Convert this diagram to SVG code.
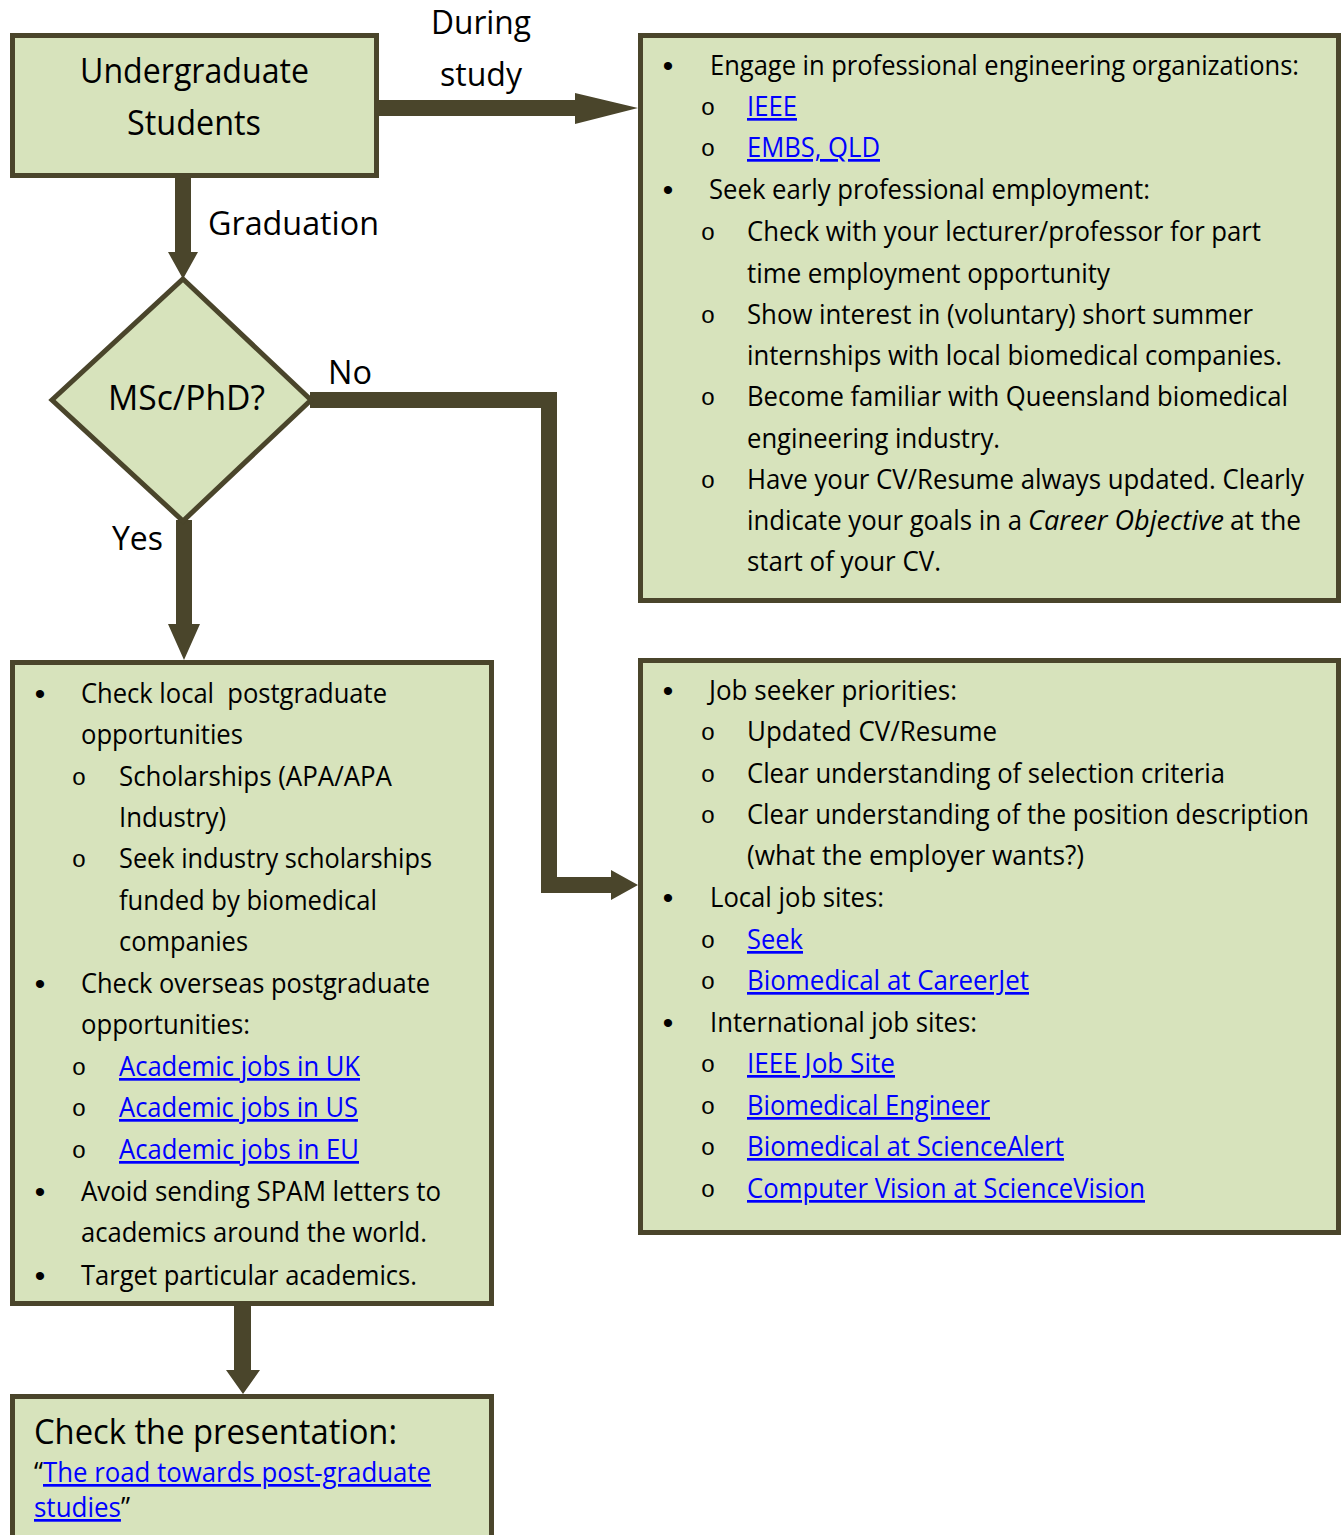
<svg xmlns="http://www.w3.org/2000/svg" width="1343" height="1535" viewBox="0 0 1343 1535">
<style>
.box{fill:#d7e3bc;stroke:#4a452b;stroke-width:5}
.con{fill:#4a452b;stroke:none}
text{font-family:"Open Sans","Noto Sans",sans-serif;fill:#000}
.t{font-size:27px;white-space:pre}
.big{font-size:34px}
.lbl{font-size:33px}
.lk{fill:#0000ff;text-decoration:underline}
.bul{font-family:"Liberation Sans",sans-serif;font-size:30px;text-anchor:middle}
.sub{font-family:"Liberation Mono",monospace;font-size:24px;text-anchor:middle}
</style>
<rect width="1343" height="1535" fill="#ffffff"/>
<g id="connectors">
<polygon class="con" points="377,100 575,100 575,93 638,108 575,124 575,116 377,116"/>
<polygon class="con" points="175,176 191,176 191,252 198,252 183,279 168,252 175,252"/>
<polygon class="con" points="176,520 192,520 192,624 200,624 184,660 168,624 176,624"/>
<polygon class="con" points="310,392 557,392 557,877 611,877 611,870 638,885 611,900 611,893 541,893 541,408 310,408"/>
<polygon class="con" points="234,1304 251,1304 251,1370 260,1370 243,1394 226,1370 234,1370"/>
<text class="lbl" x="431" y="34" textLength="100" lengthAdjust="spacingAndGlyphs">During</text>
<text class="lbl" x="440" y="86" textLength="82" lengthAdjust="spacingAndGlyphs">study</text>
<text class="lbl" x="208" y="235" textLength="171" lengthAdjust="spacingAndGlyphs">Graduation</text>
<text class="lbl" x="328" y="384" textLength="44" lengthAdjust="spacingAndGlyphs">No</text>
<text class="lbl" x="112" y="550" textLength="51" lengthAdjust="spacingAndGlyphs">Yes</text>
</g>
<g id="undergrad">
<rect class="box" x="12.5" y="35.5" width="364" height="140"/>
<text class="big" x="80" y="83" textLength="229" lengthAdjust="spacingAndGlyphs">Undergraduate</text>
<text class="big" x="127" y="135" textLength="134" lengthAdjust="spacingAndGlyphs">Students</text>
</g>
<g id="decision">
<polygon class="box" stroke-width="4" points="183,279 311,400 183,521 52,400"/>
<text class="big" x="108" y="410" textLength="157" lengthAdjust="spacingAndGlyphs">MSc/PhD?</text>
</g>
<g id="during-study-box">
<rect class="box" x="640.5" y="35.5" width="698" height="565"/>
<text class="bul" x="668" y="76">•</text>
<text class="t" x="710" y="75" textLength="589" lengthAdjust="spacingAndGlyphs">Engage in professional engineering organizations:</text>
<text class="sub" x="708" y="115">o</text>
<text class="t lk" x="747" y="116" textLength="50" lengthAdjust="spacingAndGlyphs">IEEE</text>
<text class="sub" x="708" y="156">o</text>
<text class="t lk" x="747" y="157" textLength="133" lengthAdjust="spacingAndGlyphs">EMBS, QLD</text>
<text class="bul" x="668" y="200">•</text>
<text class="t" x="709" y="199" textLength="441" lengthAdjust="spacingAndGlyphs">Seek early professional employment:</text>
<text class="sub" x="708" y="240">o</text>
<text class="t" x="747" y="241" textLength="514" lengthAdjust="spacingAndGlyphs">Check with your lecturer/professor for part</text>
<text class="t" x="747" y="283" textLength="363" lengthAdjust="spacingAndGlyphs">time employment opportunity</text>
<text class="sub" x="708" y="323">o</text>
<text class="t" x="747" y="324" textLength="506" lengthAdjust="spacingAndGlyphs">Show interest in (voluntary) short summer</text>
<text class="t" x="747" y="365" textLength="535" lengthAdjust="spacingAndGlyphs">internships with local biomedical companies.</text>
<text class="sub" x="708" y="405">o</text>
<text class="t" x="747" y="406" textLength="541" lengthAdjust="spacingAndGlyphs">Become familiar with Queensland biomedical</text>
<text class="t" x="747" y="448" textLength="253" lengthAdjust="spacingAndGlyphs">engineering industry.</text>
<text class="sub" x="708" y="488">o</text>
<text class="t" x="747" y="489" textLength="557" lengthAdjust="spacingAndGlyphs">Have your CV/Resume always updated. Clearly</text>
<text class="t" x="747" y="530" textLength="275" lengthAdjust="spacingAndGlyphs">indicate your goals in a</text>
<text class="t" x="1028" y="530" textLength="196" lengthAdjust="spacingAndGlyphs" font-style="italic">Career Objective</text>
<text class="t" x="1230" y="530" textLength="71" lengthAdjust="spacingAndGlyphs">at the</text>
<text class="t" x="747" y="571" textLength="194" lengthAdjust="spacingAndGlyphs">start of your CV.</text>
</g>
<g id="job-box">
<rect class="box" x="640.5" y="660.5" width="698" height="572"/>
<text class="bul" x="668" y="701">•</text>
<text class="t" x="709" y="700" textLength="248" lengthAdjust="spacingAndGlyphs">Job seeker priorities:</text>
<text class="sub" x="708" y="740">o</text>
<text class="t" x="747" y="741" textLength="250" lengthAdjust="spacingAndGlyphs">Updated CV/Resume</text>
<text class="sub" x="708" y="782">o</text>
<text class="t" x="747" y="783" textLength="478" lengthAdjust="spacingAndGlyphs">Clear understanding of selection criteria</text>
<text class="sub" x="708" y="823">o</text>
<text class="t" x="747" y="824" textLength="562" lengthAdjust="spacingAndGlyphs">Clear understanding of the position description</text>
<text class="t" x="747" y="865" textLength="337" lengthAdjust="spacingAndGlyphs">(what the employer wants?)</text>
<text class="bul" x="668" y="908">•</text>
<text class="t" x="710" y="907" textLength="174" lengthAdjust="spacingAndGlyphs">Local job sites:</text>
<text class="sub" x="708" y="948">o</text>
<text class="t lk" x="747" y="949" textLength="56" lengthAdjust="spacingAndGlyphs">Seek</text>
<text class="sub" x="708" y="989">o</text>
<text class="t lk" x="747" y="990" textLength="282" lengthAdjust="spacingAndGlyphs">Biomedical at CareerJet</text>
<text class="bul" x="668" y="1033">•</text>
<text class="t" x="710" y="1032" textLength="267" lengthAdjust="spacingAndGlyphs">International job sites:</text>
<text class="sub" x="708" y="1072">o</text>
<text class="t lk" x="747" y="1073" textLength="148" lengthAdjust="spacingAndGlyphs">IEEE Job Site</text>
<text class="sub" x="708" y="1114">o</text>
<text class="t lk" x="747" y="1115" textLength="243" lengthAdjust="spacingAndGlyphs">Biomedical Engineer</text>
<text class="sub" x="708" y="1155">o</text>
<text class="t lk" x="747" y="1156" textLength="317" lengthAdjust="spacingAndGlyphs">Biomedical at ScienceAlert</text>
<text class="sub" x="708" y="1197">o</text>
<text class="t lk" x="747" y="1198" textLength="398" lengthAdjust="spacingAndGlyphs">Computer Vision at ScienceVision</text>
</g>
<g id="postgrad-box">
<rect class="box" x="12.5" y="662.5" width="479" height="641"/>
<text class="bul" x="40" y="704">•</text>
<text class="t" x="81" y="703" textLength="306" lengthAdjust="spacingAndGlyphs">Check local  postgraduate</text>
<text class="t" x="81" y="744" textLength="162" lengthAdjust="spacingAndGlyphs">opportunities</text>
<text class="sub" x="79" y="785">o</text>
<text class="t" x="119" y="786" textLength="273" lengthAdjust="spacingAndGlyphs">Scholarships (APA/APA</text>
<text class="t" x="119" y="827" textLength="107" lengthAdjust="spacingAndGlyphs">Industry)</text>
<text class="sub" x="79" y="867">o</text>
<text class="t" x="119" y="868" textLength="313" lengthAdjust="spacingAndGlyphs">Seek industry scholarships</text>
<text class="t" x="119" y="910" textLength="258" lengthAdjust="spacingAndGlyphs">funded by biomedical</text>
<text class="t" x="119" y="951" textLength="129" lengthAdjust="spacingAndGlyphs">companies</text>
<text class="bul" x="40" y="994">•</text>
<text class="t" x="81" y="993" textLength="349" lengthAdjust="spacingAndGlyphs">Check overseas postgraduate</text>
<text class="t" x="81" y="1034" textLength="169" lengthAdjust="spacingAndGlyphs">opportunities:</text>
<text class="sub" x="79" y="1075">o</text>
<text class="t lk" x="119" y="1076" textLength="241" lengthAdjust="spacingAndGlyphs">Academic jobs in UK</text>
<text class="sub" x="79" y="1116">o</text>
<text class="t lk" x="119" y="1117" textLength="239" lengthAdjust="spacingAndGlyphs">Academic jobs in US</text>
<text class="sub" x="79" y="1158">o</text>
<text class="t lk" x="119" y="1159" textLength="240" lengthAdjust="spacingAndGlyphs">Academic jobs in EU</text>
<text class="bul" x="40" y="1202">•</text>
<text class="t" x="81" y="1201" textLength="360" lengthAdjust="spacingAndGlyphs">Avoid sending SPAM letters to</text>
<text class="t" x="81" y="1242" textLength="346" lengthAdjust="spacingAndGlyphs">academics around the world.</text>
<text class="bul" x="40" y="1286">•</text>
<text class="t" x="81" y="1285" textLength="336" lengthAdjust="spacingAndGlyphs">Target particular academics.</text>
</g>
<g id="presentation-box">
<rect class="box" x="12.5" y="1396.5" width="479" height="150"/>
<text class="big" x="34" y="1444" textLength="363" lengthAdjust="spacingAndGlyphs">Check the presentation:</text>
<text class="t" x="34" y="1482" textLength="397" lengthAdjust="spacingAndGlyphs">“<tspan class="lk">The road towards post-graduate</tspan></text>
<text class="t" x="34" y="1517" textLength="96" lengthAdjust="spacingAndGlyphs"><tspan class="lk">studies</tspan>”</text>
</g>
</svg>
